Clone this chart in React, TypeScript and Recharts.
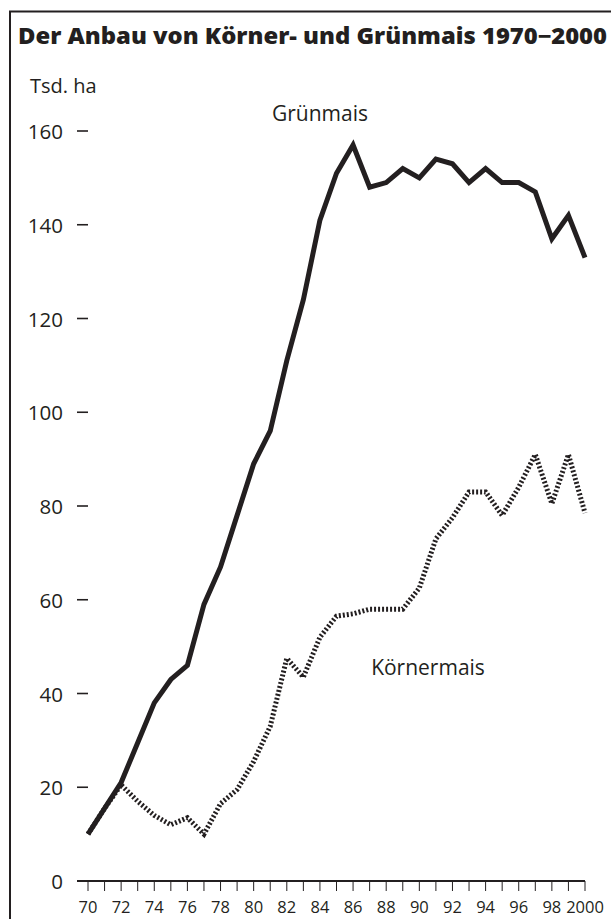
import React from 'react';
import { LineChart, Line, XAxis, YAxis } from 'recharts';

const years = [
  1970, 1971, 1972, 1973, 1974, 1975, 1976, 1977, 1978, 1979, 1980,
  1981, 1982, 1983, 1984, 1985, 1986, 1987, 1988, 1989, 1990,
  1991, 1992, 1993, 1994, 1995, 1996, 1997, 1998, 1999, 2000,
];

// Tsd. ha
const gruenmais = [
  10, 15.5, 21, 29.5, 38, 43, 46, 59, 67, 78, 89,
  96, 111, 124, 141, 151, 157, 148, 149, 152, 150,
  154, 153, 149, 152, 149, 149, 147, 137, 142, 133,
];

const koernermais = [
  10, 15.5, 20.5, 17, 14, 12, 13.5, 10, 16.5, 19.5, 25.5,
  33, 47.5, 43.5, 52, 56.5, 57, 58, 58, 58, 62.5,
  73, 77.5, 83, 83, 78, 84, 91, 80.5, 91, 78.5,
];

const yTicks = [0, 20, 40, 60, 80, 100, 120, 140, 160];

const INK = '#231f20';
const FONT = '"Open Sans", "Noto Sans", sans-serif';

const data = years.map((year, i) => ({ year, gruen: gruenmais[i], koerner: koernermais[i] }));

function yearLabel(y: number) {
  if (y % 2 !== 0) return '';
  return y === 2000 ? '2000' : String(y % 100);
}

function YTick(props: any) {
  const { y, payload } = props;
  return (
    <g>
      <text x={63} y={y} textAnchor="end" dominantBaseline="central" fontSize={20.5} fill={INK} fontFamily={FONT}>
        {payload.value}
      </text>
      {payload.value !== 0 && <line x1={77} x2={88} y1={y} y2={y} stroke={INK} strokeWidth={1.6} />}
    </g>
  );
}

export default function App() {
  return (
    <div style={{ position: 'absolute', left: 0, top: 0, width: 611, height: 919, background: '#fff', overflow: 'hidden' }}>
      <LineChart width={611} height={919} data={data} margin={{ top: 131, right: 26, bottom: 0, left: 0 }}>
        <XAxis
          dataKey="year"
          type="number"
          domain={[1970, 2000]}
          ticks={years}
          interval={0}
          tickFormatter={yearLabel}
          padding={{ left: 11, right: 0 }}
          height={38}
          tickSize={10}
          tickMargin={10}
          axisLine={{ stroke: INK, strokeWidth: 2 }}
          tickLine={{ stroke: INK, strokeWidth: 1 }}
          tick={{ fontSize: 16.5, fill: INK, fontFamily: FONT }}
        />
        <YAxis
          type="number"
          domain={[0, 160]}
          ticks={yTicks}
          width={77}
          axisLine={false}
          tickLine={false}
          tick={<YTick />}
        />
        <Line dataKey="gruen" type="linear" stroke={INK} strokeWidth={5} dot={false} isAnimationActive={false} strokeLinejoin="miter" />
        <Line dataKey="koerner" type="linear" stroke={INK} strokeWidth={5} strokeDasharray="2 2" dot={false} isAnimationActive={false} />
      </LineChart>
      <svg width={611} height={919} style={{ position: 'absolute', left: 0, top: 0, pointerEvents: 'none' }}>
        <line x1={9} x2={611} y1={11.5} y2={11.5} stroke={INK} strokeWidth={2} />
        <line x1={10} x2={10} y1={11} y2={919} stroke={INK} strokeWidth={2} />
        <text x={18} y={44} fontSize={22} fontWeight={800} fill={INK} fontFamily={FONT} textLength={589} lengthAdjust="spacingAndGlyphs">
          Der Anbau von Körner- und Grünmais 1970−2000
        </text>
        <text x={30} y={93} fontSize={20} fill={INK} fontFamily={FONT}>Tsd. ha</text>
        <text x={320} y={121} fontSize={21} textAnchor="middle" fill={INK} fontFamily={FONT}>Grünmais</text>
        <text x={428} y={675} fontSize={21} textAnchor="middle" fill={INK} fontFamily={FONT}>Körnermais</text>
      </svg>
    </div>
  );
}
